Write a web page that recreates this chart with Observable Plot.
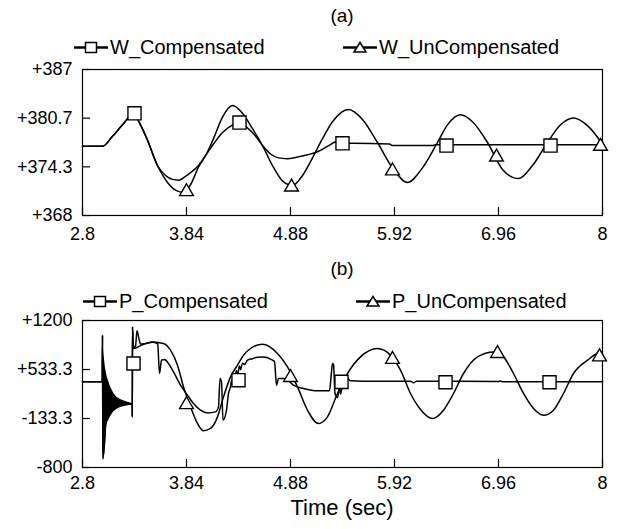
<!DOCTYPE html>
<html><head><meta charset="utf-8">
<script src="https://cdn.jsdelivr.net/npm/d3@7"></script>
<script src="https://cdn.jsdelivr.net/npm/@observablehq/plot@0.6"></script>
<style>
body{margin:0;background:#fff;font-family:"Liberation Sans",Arial,sans-serif;color:#000;}
#wrap{position:relative;width:623px;height:529px;overflow:hidden;background:#fff;}
.abs{position:absolute;white-space:nowrap;line-height:1;}
.ttl{font-size:19px;transform:translate(-50%,-50%);z-index:2;}
.leg{font-size:20px;transform:translateY(-50%);display:flex;align-items:center;z-index:2;}
.leg svg{display:block;margin-right:2px;}
</style></head><body><div id="wrap"></div>
<script>
// ---------- data ----------
const xTicks = [2.8, 3.84, 4.88, 5.92, 6.96, 8];
const xTickLabels = ["2.8", "3.84", "4.88", "5.92", "6.96", "8"];

const wYTicks = [368, 374.3333, 380.6667, 387];
const wYTickLabels = ["+368", "+374.3", "+380.7", "+387"];
const pYTicks = [-800, -133.333, 533.333, 1200];
const pYTickLabels = ["-800", "-133.3", "+533.3", "+1200"];

const seriesNames = ["W_Compensated", "W_UnCompensated", "P_Compensated", "P_UnCompensated"];

// (a) speed W
const wComp = [[2.8,377.0],[3.0,377.0],[3.1,378.3],[3.2,379.8],[3.31,381.2],[3.38,379.8],[3.45,377.8],[3.55,374.5],[3.63,373.2],[3.70,372.7],[3.76,372.6],[3.84,373.2],[3.96,374.5],[4.04,376.0],[4.11,377.3],[4.2,378.8],[4.29,379.7],[4.36,380.1],[4.44,379.5],[4.52,378.5],[4.6,377.1],[4.68,376.0],[4.76,375.5],[4.84,375.4],[4.95,375.6],[5.05,375.9],[5.15,376.3],[5.25,377.0],[5.33,377.6],[5.38,377.8],[5.43,377.4],[5.5,377.4],[5.87,377.3],[5.9,377.1],[6.3,377.1],[6.33,377.2],[8.0,377.2]];
const wUnc = [[2.8,377.0],[3.0,377.0],[3.1,378.3],[3.2,379.8],[3.31,381.2],[3.38,379.8],[3.45,377.8],[3.55,374.5],[3.65,372.3],[3.73,371.3],[3.81,371.0],[3.88,372.0],[3.96,374.3],[4.04,376.0],[4.11,378.0],[4.2,380.8],[4.30,382.3],[4.40,381.3],[4.5,379.3],[4.6,377.1],[4.7,374.5],[4.8,372.5],[4.90,371.9],[5.0,373.2],[5.1,375.5],[5.2,378.0],[5.3,380.2],[5.46,381.8],[5.6,380.5],[5.75,377.5],[5.9,374.2],[6.05,372.3],[6.2,374.2],[6.35,377.5],[6.45,379.8],[6.58,381.1],[6.7,380.2],[6.85,377.5],[7.0,374.0],[7.16,372.8],[7.3,374.5],[7.45,377.5],[7.58,379.8],[7.71,380.7],[7.85,379.7],[8.0,377.3]];
const wCompMarks = [[3.32,381.3],[4.37,380.1],[5.40,377.4],[6.44,377.1],[7.48,377.1]];
const wUncMarks = [[3.84,371.1],[4.89,371.7],[5.90,373.8],[6.94,375.6],[7.98,377.0]];

// (b) power P
const pComp = [[2.8,365],[2.997,365],[3.0,1000],[3.004,-680],[3.05,75],[3.297,64],[3.298,-110],[3.300,1113],[3.305,830],[3.33,850],[3.345,1060],[3.36,980],[3.38,880],[3.42,885],[3.50,905],[3.547,887],[3.552,880],[3.57,479],[3.59,660],[3.62,670],[3.66,615],[3.71,501],[3.78,320],[3.85,184],[3.91,71],[3.98,-20],[4.05,-57],[4.13,-43],[4.16,25],[4.175,411],[4.19,365],[4.205,-156],[4.24,-20],[4.26,207],[4.28,300],[4.29,380],[4.30,330],[4.31,450],[4.32,390],[4.34,520],[4.35,460],[4.37,580],[4.38,530],[4.40,620],[4.42,600],[4.45,660],[4.50,680],[4.55,700],[4.61,705],[4.70,660],[4.72,640],[4.74,320],[4.76,411],[4.81,411],[4.86,379],[4.91,320],[5.01,275],[5.15,243],[5.27,245],[5.29,500],[5.30,615],[5.31,600],[5.325,207],[5.35,153],[5.37,300],[5.38,200],[5.40,320],[5.45,411],[5.48,379],[5.6,374],[6.08,374],[6.11,352],[6.14,374],[6.96,370],[6.98,378],[7.0,368],[8.0,365]];
const pUnc = [[2.8,365],[2.997,365],[3.0,1000],[3.004,-680],[3.05,75],[3.297,64],[3.298,-110],[3.300,1113],[3.31,819],[3.40,870],[3.50,909],[3.61,887],[3.68,796],[3.75,592],[3.81,297],[3.88,25],[3.95,-201],[4.01,-301],[4.08,-269],[4.15,-111],[4.21,161],[4.28,433],[4.35,592],[4.41,728],[4.48,819],[4.60,877],[4.75,751],[4.85,569],[4.95,297],[5.05,-20],[5.16,-201],[5.25,-111],[5.35,207],[5.45,479],[5.58,705],[5.75,819],[5.88,728],[5.98,524],[6.08,207],[6.18,-10],[6.30,-133],[6.41,-20],[6.51,207],[6.61,479],[6.75,705],[6.91,773],[7.01,705],[7.11,479],[7.21,207],[7.31,3],[7.41,-88],[7.51,-20],[7.61,207],[7.71,479],[7.85,660],[7.98,773],[8.0,775]];
// high-frequency ringing envelope after the disturbance: [t, upper, lower]
const pRinging = [[3.000,1000,-680],[3.013,751,-473],[3.030,547,-292],[3.047,433,-201],[3.080,297,-111],[3.113,207,-43],[3.147,153,-6],[3.180,126,17],[3.230,98,34],[3.280,79,48],[3.297,70,58]];
const pCompMarks = [[3.31,615],[4.36,388],[5.39,365],[6.43,360],[7.47,360]];
const pUncMarks = [[3.84,55],[4.88,425],[5.90,670],[6.95,751],[7.97,705]];

// ---------- layout ----------
const W = 623;
const FONT = "'Liberation Sans', Arial, sans-serif";
const wrap = document.getElementById("wrap");

function addDiv(cls, html, x, y, extra) {
  const d = document.createElement("div");
  d.className = "abs " + cls;
  d.style.left = x + "px"; d.style.top = y + "px";
  if (extra) Object.assign(d.style, extra);
  d.innerHTML = html;
  wrap.appendChild(d);
  return d;
}
function swatch(kind) {
  const sym = kind === "square"
    ? `<rect x="11.5" y="4.5" width="11" height="10" fill="white" stroke="black" stroke-width="1.5"/>`
    : `<path d="M17,4.5 L23,14 L11,14 Z" fill="white" stroke="black" stroke-width="1.5"/>`;
  return `<svg width="34" height="19" viewBox="0 0 34 19"><line x1="0" y1="9.5" x2="34" y2="9.5" stroke="black" stroke-width="2.5"/>${sym}</svg>`;
}

function panel({comp, unc, compMarks, uncMarks, yDomain, yTicks, yLabels, ringing, height, mt, mb, xPad}) {
  const ml = 82, mr = 21;
  const fw = W - ml - mr, fh = height - mt - mb;
  const marks = [
    Plot.frame({stroke: "black", strokeWidth: 1.2}),
    Plot.tickX(xTicks, {x: d => d, insetTop: fh - 8, stroke: "black", strokeWidth: 1.2}),
    Plot.tickY(yTicks, {y: d => d, insetRight: fw - 8, stroke: "black", strokeWidth: 1.2}),
    Plot.axisX(xTicks, {tickSize: 0, tickPadding: xPad, label: null, fontSize: 18,
      tickFormat: d => xTickLabels[xTicks.indexOf(d)]}),
    Plot.axisY(yTicks, {tickSize: 0, tickPadding: 10, label: null, fontSize: 18,
      tickFormat: d => yLabels[yTicks.indexOf(d)]})
  ];
  if (ringing) marks.push(Plot.areaY(ringing, {x: d => d[0], y1: d => d[2], y2: d => d[1], fill: "black", curve: "linear"}));
  marks.push(
    Plot.line(unc, {x: d => d[0], y: d => d[1], stroke: "black", strokeWidth: 1.5, curve: "monotone-x"}),
    Plot.line(comp, {x: d => d[0], y: d => d[1], stroke: "black", strokeWidth: 1.5, curve: "monotone-x"}),
    Plot.dot(compMarks, {x: d => d[0], y: d => d[1], symbol: "square", r: 7.4, stroke: "black", strokeWidth: 1.4, fill: "white"}),
    Plot.dot(uncMarks, {x: d => d[0], y: d => d[1], symbol: "triangle", r: 5.1, stroke: "black", strokeWidth: 1.4, fill: "white"})
  );
  return Plot.plot({
    width: W, height, marginLeft: ml, marginRight: mr, marginTop: mt, marginBottom: mb,
    x: {domain: [2.8, 8]},
    y: {domain: yDomain},
    style: {fontFamily: FONT, fontSize: "18px", color: "black", background: "transparent", overflow: "visible"},
    marks
  });
}

// (a)
addDiv("ttl", "(a)", 342, 15);
addDiv("leg", swatch("square") + seriesNames[0], 74, 47);
addDiv("leg", swatch("triangle") + seriesNames[1], 343, 47);
const svgA = panel({comp: wComp, unc: wUnc, compMarks: wCompMarks, uncMarks: wUncMarks,
  yDomain: [368, 387], yTicks: wYTicks, yLabels: wYTickLabels, height: 200, mt: 9, mb: 45, xPad: 12});
const boxA = document.createElement("div"); boxA.className = "abs"; boxA.style.left = "0px"; boxA.style.top = "60px";
boxA.appendChild(svgA); wrap.appendChild(boxA);

// (b)
addDiv("ttl", "(b)", 342, 268);
addDiv("leg", swatch("square") + seriesNames[2], 83, 301);
addDiv("leg", swatch("triangle") + seriesNames[3], 356, 301);
const svgB = panel({comp: pComp, unc: pUnc, compMarks: pCompMarks, uncMarks: pUncMarks, ringing: pRinging,
  yDomain: [-800, 1200], yTicks: pYTicks, yLabels: pYTickLabels, height: 190, mt: 10, mb: 33, xPad: 9});
const boxB = document.createElement("div"); boxB.className = "abs"; boxB.style.left = "0px"; boxB.style.top = "310px";
boxB.appendChild(svgB); wrap.appendChild(boxB);

addDiv("ttl", "Time (sec)", 342, 508, {fontSize: "22px"});
</script>
</body></html>
